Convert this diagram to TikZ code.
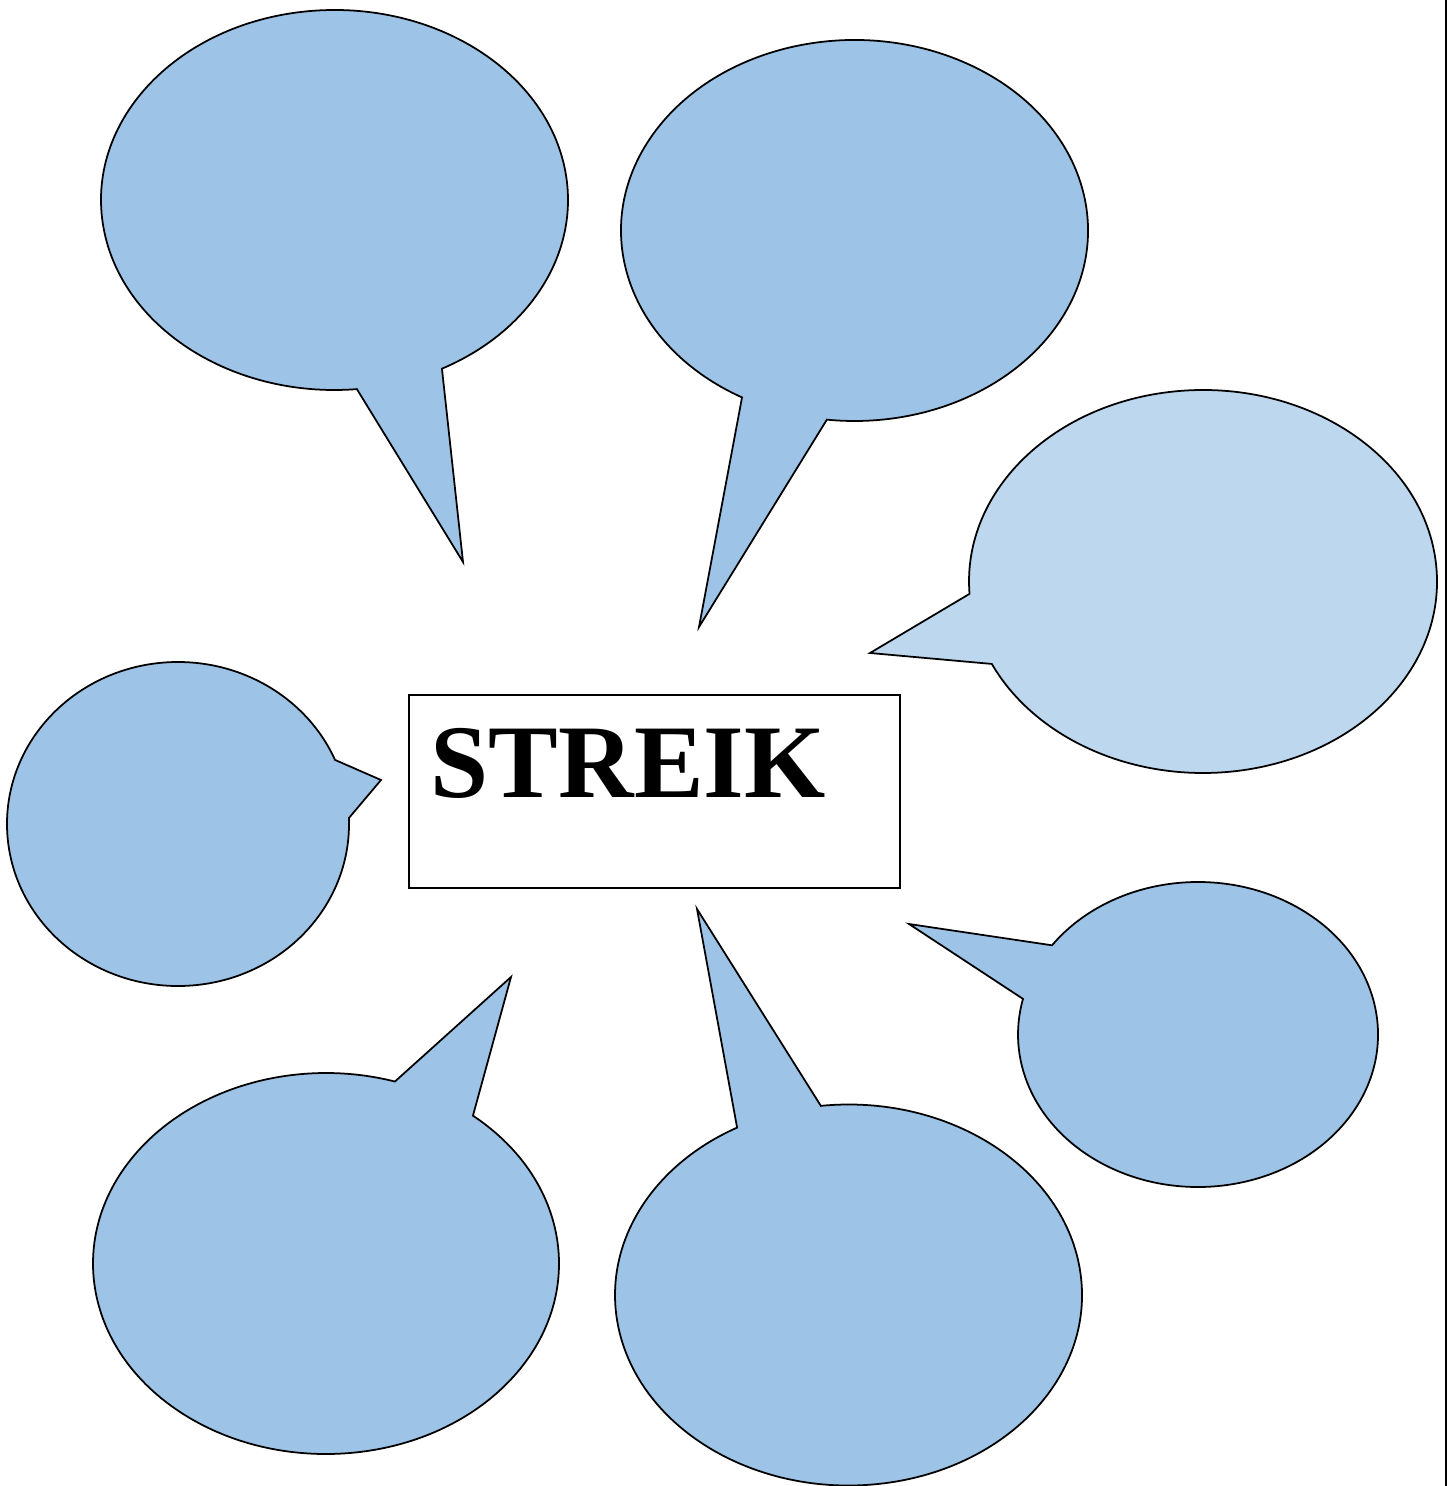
\documentclass[tikz,border=0pt]{standalone}
\usepackage{fontspec}
\setmainfont{Liberation Serif}
\usetikzlibrary{calc}

\definecolor{bubbleblue}{RGB}{157,195,230}
\definecolor{bubblelight}{RGB}{189,215,238}

\begin{document}
\begin{tikzpicture}[x=0.01cm, y=-0.01cm,
    bubble/.style={draw=black, line width=0.5pt, fill=bubbleblue, line join=miter},
    bubble light/.style={bubble, fill=bubblelight}]
            % --- pevny ramecek obrazku ---
            \useasboundingbox (0,0) rectangle (1447,1486);

            % --- stredy bublin a spicky ---
            \coordinate (c1) at (334.5,200);   \coordinate (t1) at (463,562);
            \coordinate (c2) at (854.5,230.5); \coordinate (t2) at (699,627);
            \coordinate (c3) at (1203,581.5);  \coordinate (t3) at (870,653);
            \coordinate (c4) at (178,824);     \coordinate (t4) at (381,780);
            \coordinate (c5) at (326,1263.5);  \coordinate (t5) at (511,977);
            \coordinate (c6) at (848.5,1295);  \coordinate (t6) at (697,909);
            \coordinate (c7) at (1198,1034.5); \coordinate (t7) at (909,924);

            % --- bubliny (oblouk elipsy + spicka) ---
            \filldraw[bubble] ($(c1)+(84.5:233.5 and 190)$)
                arc[start angle=84.5, end angle=422.6, x radius=233.5, y radius=190] -- (t1) -- cycle;
            \filldraw[bubble] ($(c2)+(118.8:233.5 and 190.5)$)
                arc[start angle=118.8, end angle=456.8, x radius=233.5, y radius=190.5] -- (t2) -- cycle;
            \filldraw[bubble light] ($(c3)+(176.3:234 and 191.5)$)
                arc[start angle=176.3, end angle=514.5, x radius=234, y radius=191.5] -- (t3) -- cycle;
            \filldraw[bubble] ($(c4)+(-2.1:171 and 162)$)
                arc[start angle=-2.1, end angle=336.7, x radius=171, y radius=162] -- (t4) -- cycle;
            \filldraw[bubble] ($(c5)+(-50.9:233 and 190.5)$)
                arc[start angle=-50.9, end angle=287.2, x radius=233, y radius=190.5] -- (t5) -- cycle;
            \filldraw[bubble] ($(c6)+(-96.8:233.5 and 190.5)$)
                arc[start angle=-96.8, end angle=241.5, x radius=233.5, y radius=190.5] -- (t6) -- cycle;
            \filldraw[bubble] ($(c7)+(215.8:180 and 152.5)$)
                arc[start angle=215.8, end angle=553.5, x radius=180, y radius=152.5] -- (t7) -- cycle;

            % --- stredovy ramecek s nadpisem ---
            \node[draw, line width=0.5pt, anchor=north west, inner xsep=0.22cm, inner ysep=0pt,
                  text width=4.47cm, text height=1.03cm, text depth=0.90cm, align=left,
                  font=\fontsize{29.7pt}{36pt}\selectfont\bfseries] (streik) at (408,694) {STREIK};

            % --- okraj vpravo ---
            \draw[line width=0.6pt] (1445.8,0) -- (1445.8,1486);
\end{tikzpicture}
\end{document}
